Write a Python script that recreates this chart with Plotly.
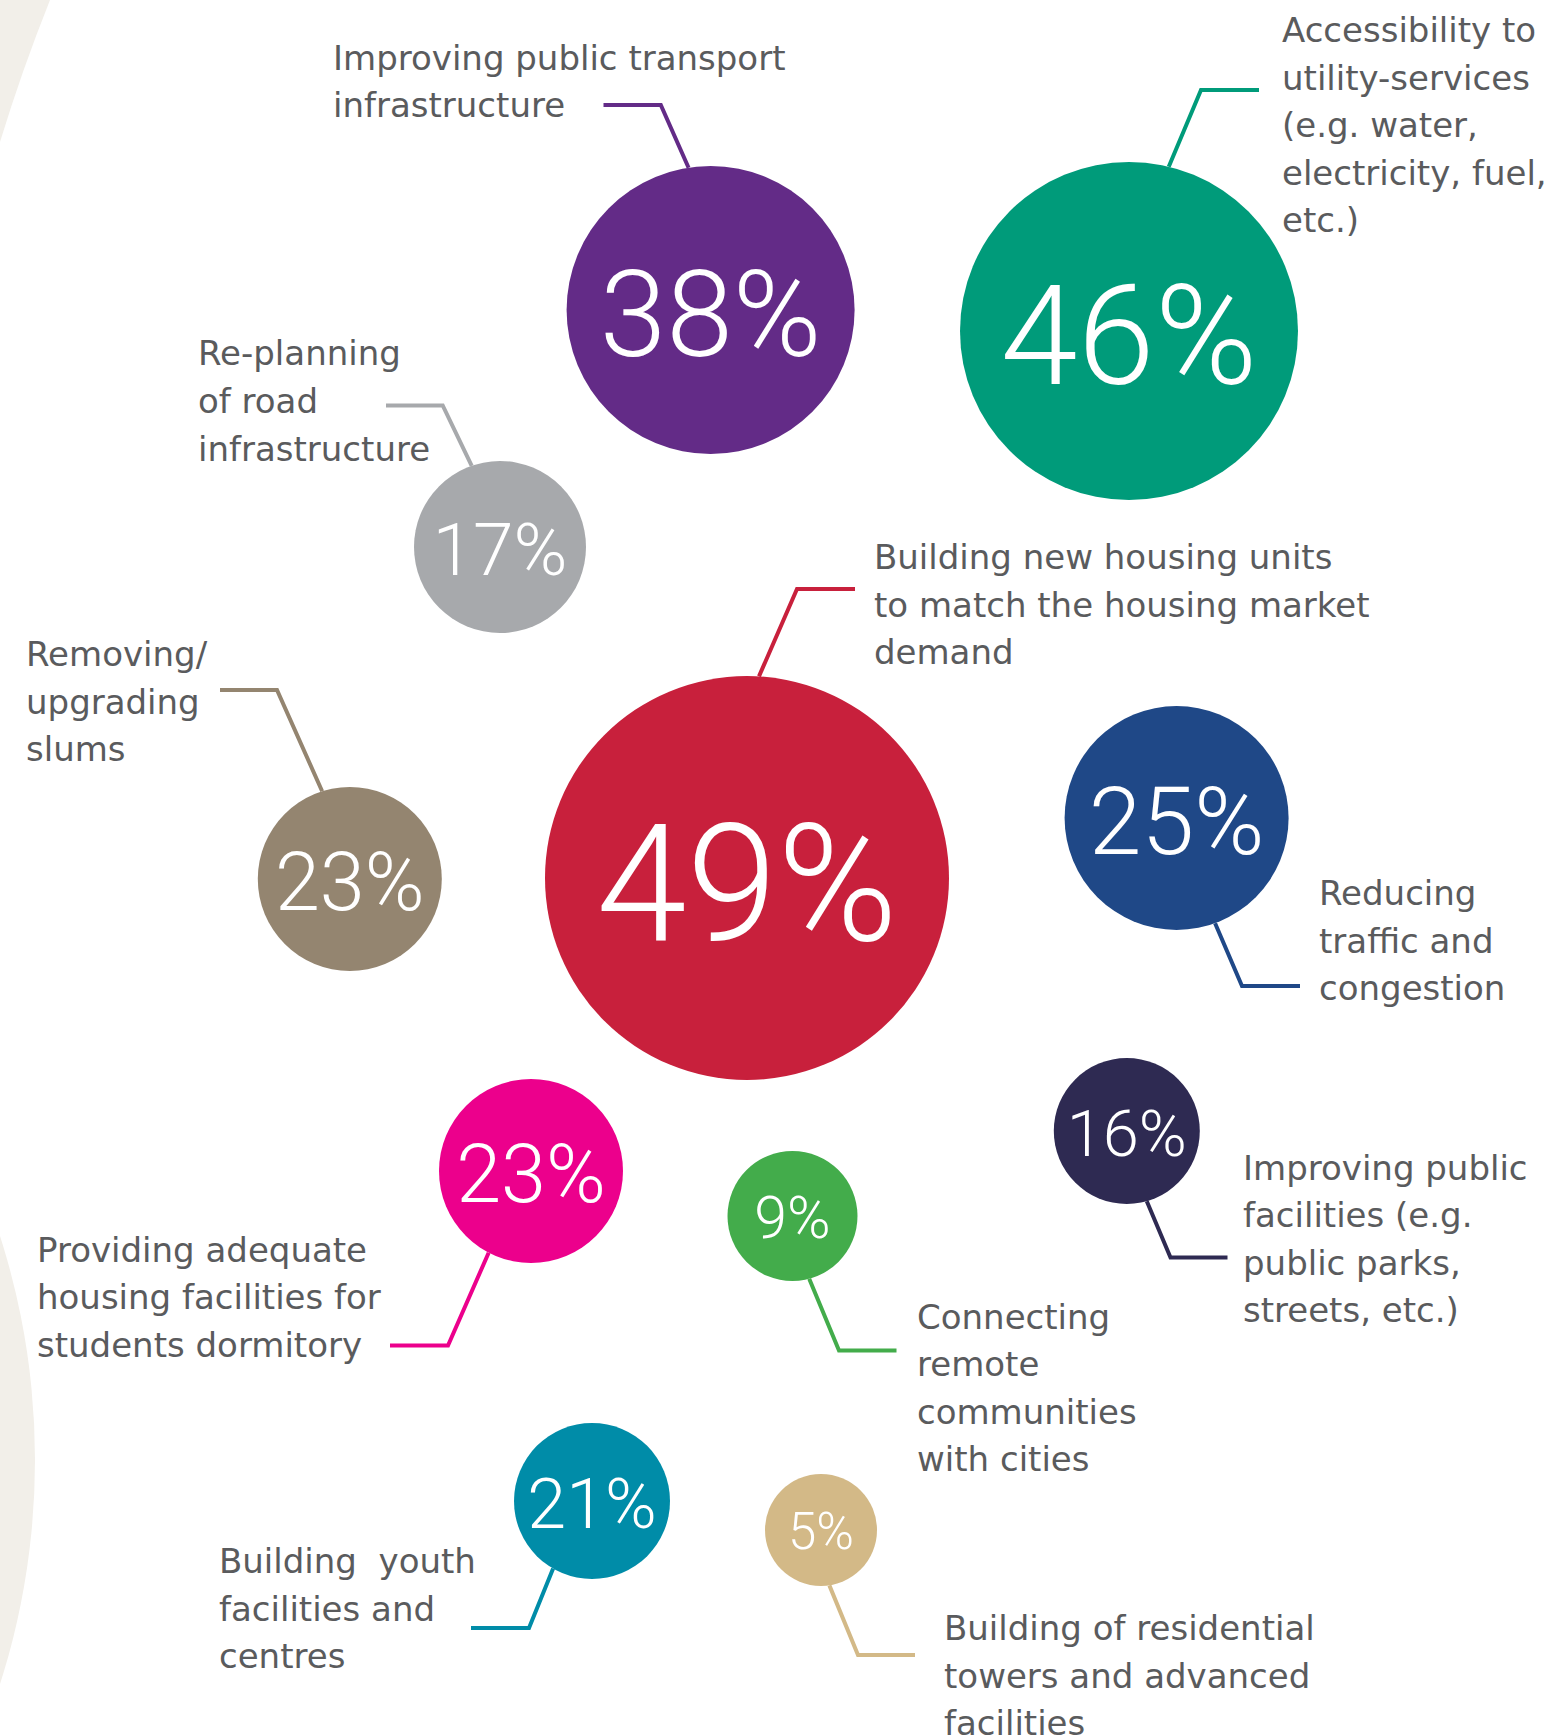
import math
import plotly.graph_objects as go

# ---------------- data ----------------
categories = [
    "Improving public transport\ninfrastructure",
    "Accessibility to\nutility-services\n(e.g. water,\nelectricity, fuel,\netc.)",
    "Re-planning\nof road\ninfrastructure",
    "Building new housing units\nto match the housing market\ndemand",
    "Reducing\ntraffic and\ncongestion",
    "Removing/\nupgrading\nslums",
    "Providing adequate\nhousing facilities for\nstudents dormitory",
    "Connecting\nremote\ncommunities\nwith cities",
    "Improving public\nfacilities (e.g.\npublic parks,\nstreets, etc.)",
    "Building  youth\nfacilities and\ncentres",
    "Building of residential\ntowers and advanced\nfacilities",
]
values = [38, 46, 17, 49, 25, 23, 23, 9, 16, 21, 5]

# ---------------- styles ----------------
colors = ["#632B87", "#009B7A", "#A7A9AC", "#C8203C", "#1F4887", "#948570",
          "#EC008C", "#43AC4B", "#2E2A52", "#008CA8", "#D3B987"]

# ---------------- layout (pixel positions) ----------------
cx = [710.6, 1129, 500, 747, 1176.6, 349.8, 531, 792.5, 1126.8, 592, 821]
cy = [310, 331, 547, 878, 818, 879, 1171, 1216, 1131, 1501, 1530]
rad = [144, 169, 86, 202, 112, 92, 92, 65, 73, 78, 56]
num_size = [120, 139, 73, 163, 95, 81, 81, 59, 65, 70, 51]
lead_ang = [-98.8, -76.4, -109.2, -86.6, 69.9, -107.5, 117.4, 75.1, 74.1, 119.9, 81.4]
elbow_x = [660.8, 1201, 442.7, 797, 1242, 277, 448, 839, 1170.5, 529, 858]
elbow_y = [105, 90, 405.5, 589, 986, 690, 1345.5, 1350.5, 1257.5, 1628, 1655]
end_x = [603.5, 1259, 386, 855, 1300, 220, 390, 896.5, 1227.5, 471, 915]
lab_x = [331, 1280, 196, 871.5, 1317, 24, 35, 915, 1241, 216.5, 942]
lab_y = [57.5, 30, 353.3, 557, 893, 654, 1249.5, 1316.5, 1167.5, 1561, 1628]
line_h = 47.6
W, H = 1554, 1735
text_color = "#5A5B5D"
beige = "#F2EFE9"

fig = go.Figure()

# leader lines
for i in range(len(values)):
    a = math.radians(lead_ang[i])
    sx = cx[i] + rad[i] * math.cos(a)
    sy = cy[i] + rad[i] * math.sin(a)
    fig.add_trace(go.Scatter(
        x=[sx, elbow_x[i], end_x[i]], y=[sy, elbow_y[i], elbow_y[i]],
        mode="lines", line=dict(color=colors[i], width=4),
        hoverinfo="skip", showlegend=False, cliponaxis=False))

# bubbles
fig.add_trace(go.Scatter(
    x=cx, y=cy, mode="markers",
    marker=dict(size=[2 * r for r in rad], color=colors, line=dict(width=0), opacity=1),
    customdata=[f"{c.replace(chr(10), ' ')}: {v}%" for c, v in zip(categories, values)],
    hovertemplate="%{customdata}<extra></extra>",
    showlegend=False, cliponaxis=False))

# value text (nudged so digits sit optically centred)
fig.add_trace(go.Scatter(
    x=cx, y=[y + 0.13 * s for y, s in zip(cy, num_size)], mode="text",
    text=[f"{v}%" for v in values], textposition="middle center",
    textfont=dict(family="Roboto", size=num_size, color="white", weight=300),
    hoverinfo="skip", showlegend=False, cliponaxis=False))

# labels (one annotation per text line to control line spacing)
annotations = []
for i, cat in enumerate(categories):
    for j, line in enumerate(cat.split("\n")):
        annotations.append(dict(
            x=lab_x[i], y=lab_y[i] + j * line_h, xref="x", yref="y",
            text=line, showarrow=False, xanchor="left", yanchor="middle",
            font=dict(family="DejaVu Sans", size=34, color=text_color)))

shapes = [
    dict(type="path", xref="x", yref="y", layer="below",
         path="M 0 0 L 50 0 Q 22 70 0 142 Z",
         fillcolor=beige, line=dict(width=0)),
    dict(type="circle", xref="x", yref="y", layer="below",
         x0=-700 - 735, x1=-700 + 735, y0=1460 - 735, y1=1460 + 735,
         fillcolor=beige, line=dict(width=0)),
]

fig.update_layout(
    width=W, height=H,
    margin=dict(l=0, r=0, t=0, b=0),
    paper_bgcolor="white", plot_bgcolor="white",
    xaxis=dict(range=[0, W], visible=False, fixedrange=True),
    yaxis=dict(range=[H, 0], visible=False, fixedrange=True),
    annotations=annotations, shapes=shapes,
    showlegend=False,
)

fig.write_html("out.html",
               config={"displayModeBar": False},
               post_script="document.body.style.margin='0';document.body.style.padding='0';")
